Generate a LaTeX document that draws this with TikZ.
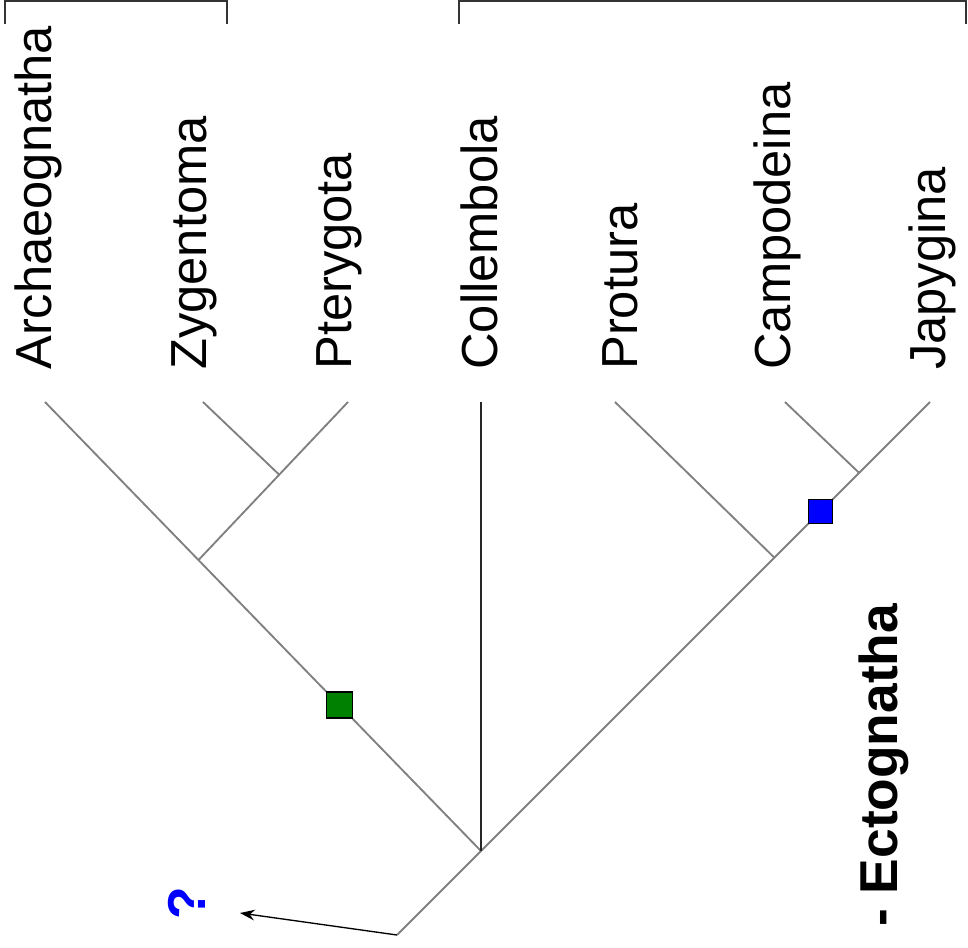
\documentclass[tikz,border=0pt]{standalone}
\usepackage{fontspec}
\setmainfont{Liberation Sans}
\usetikzlibrary{arrows.meta,calc,positioning}

\begin{document}
\begin{tikzpicture}[x=0.75pt,y=-0.75pt,>={Stealth[length=11pt,width=8pt]},
	branch/.style={draw=gray,line width=1.4pt},
	taxon/.style={rotate=90,anchor=west,inner sep=0pt,font=\fontsize{38}{40}\selectfont},
	marker/.style={draw=black,line width=0.9pt,inner sep=0pt},
	bracket/.style={draw=black!80,line width=1.2pt}]
	\useasboundingbox (0,0) rectangle (968,948);

	% tips of the tree
	\coordinate (tA)  at (45,402);
	\coordinate (tZ)  at (203,402);
	\coordinate (tP)  at (348,402);
	\coordinate (tC)  at (481,402);
	\coordinate (tPr) at (615,402);
	\coordinate (tCa) at (785,402);
	\coordinate (tJ)  at (930,402);
	\coordinate (base) at (397,935);
	\coordinate (root) at (481,851);
	\coordinate (qend) at (240,913);

	% inner nodes
	\coordinate (dic)  at ($(tA)!0.352!(root)$);
	\coordinate (zp)   at ($(tP)!0.46!(dic)$);
	\coordinate (prot) at ($(tJ)!0.292!(base)$);
	\coordinate (dip)  at ($(tJ)!0.133!(base)$);

	% taxa
	\node[taxon] (Arch) at (38,370)  {Archaeognatha};
	\node[taxon] (Zyg)  at (194,370) {Zygentoma};
	\node[taxon] (Pter) at (339,370) {Pterygota};
	\node[taxon] (Coll) at (479,370) {Collembola};
	\node[taxon] (Prot) at (620,370) {Protura};
	\node[taxon] (Camp) at (777,370) {Campodeina};
	\node[taxon] (Jap)  at (932,370) {Japygina};

	% branches
	\draw[branch] (tA) -- (root);
	\draw[branch] (tZ) -- (zp);
	\draw[branch] (tP) -- (dic);
	\draw[branch] (tPr) -- (prot);
	\draw[branch] (tCa) -- (dip);
	\draw[branch] (tJ) -- (base);
	\draw[draw=black!85,line width=1.3pt] (tC) -- (root);
	\draw[->,black,line width=1pt] (base) -- (qend);

	% characters
	\node[marker,fill=green!50!black,minimum size=19.5pt] (ins) at ($(tA)!0.675!(root)$) {};
	\node[marker,fill=blue,minimum size=18pt] (ent) at ($(tJ)!0.205!(base)$) {};

	\node[rotate=90,inner sep=0pt,text=blue,font=\bfseries\fontsize{40}{42}\selectfont] (q) at (187,903) {?};
	\node[taxon,font=\bfseries\fontsize{40}{42}\selectfont] (ecto) at (884,927) {- Ectognatha};

	% brackets
	\draw[bracket] (5,24) -- (5,1) -- (227,1) -- (227,24);
	\draw[bracket] (459,24) -- (459,1) -- (966,1) -- (966,24);
\end{tikzpicture}
\end{document}
